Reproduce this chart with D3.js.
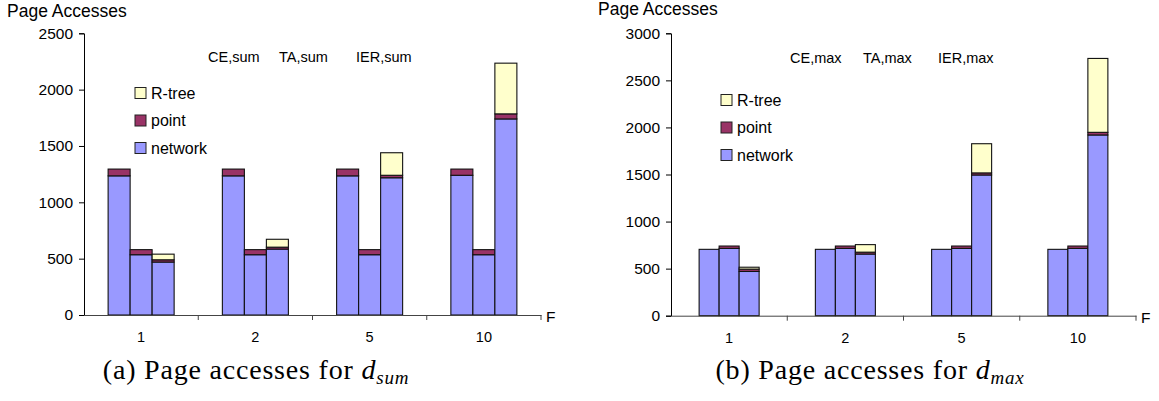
<!DOCTYPE html>
<html><head><meta charset="utf-8">
<script src="https://cdn.jsdelivr.net/npm/d3@7"></script>
<style>body{margin:0;background:#fff}svg{display:block}text{font-family:"Liberation Sans",Arial,sans-serif}</style>
</head><body><svg id="c" width="1159" height="401"></svg>
<script>
const categories = ["1","2","5","10"];
const methods = ["CE","TA","IER"];
const layers = ["network","point","R-tree"];
const colors = {"network":"#9999FF","point":"#993366","R-tree":"#FFFFCC"};
const yTicksSum = [0,500,1000,1500,2000,2500];
const yTicksMax = [0,500,1000,1500,2000,2500,3000];

// d_sum: [method][category]
const sumNetwork = [[1235,1235,1235,1240],[535,535,535,535],[470,585,1218,1740]];
const sumPoint   = [[60,60,60,55],[45,45,45,45],[20,17,22,45]];
const sumRtree   = [[0,0,0,0],[0,0,0,0],[50,70,200,450]];
// d_max: [method][category]
const maxNetwork = [[705,705,705,705],[715,715,715,715],[470,655,1495,1920]];
const maxPoint   = [[0,0,0,0],[25,25,25,25],[25,20,22,28]];
const maxRtree   = [[0,0,0,0],[0,0,0,0],[20,80,310,785]];

const svg = d3.select("#c");

function panel(o){
  const g = svg.append("g");
  const x0 = d3.scaleBand().domain(categories).range([o.x0,o.x1]).padding(0);
  const x1 = d3.scaleBand().domain(methods).range([0,x0.bandwidth()]).paddingInner(0).paddingOuter(o.pad);
  const y = d3.scaleLinear().domain([0,o.ymax]).range([o.yb,o.yt]);

  categories.forEach((c,ci)=>{
    methods.forEach((m,mi)=>{
      const vals = [o.net[mi][ci], o.pt[mi][ci], o.rt[mi][ci]];
      let base = 0;
      vals.forEach((v,li)=>{
        if(v<=0) return;
        g.append("rect")
          .attr("x", x0(c)+x1(m))
          .attr("width", x1.bandwidth())
          .attr("y", y(base+v))
          .attr("height", y(base)-y(base+v))
          .attr("fill", colors[layers[li]])
          .attr("stroke","#111").attr("stroke-width",1.1);
        base += v;
      });
    });
  });

  const ya = d3.axisLeft(y).tickValues(o.yticks).tickSize(5).tickPadding(6).tickFormat(d3.format("d"));
  const yg = g.append("g").attr("transform",`translate(${o.x0},0)`).call(ya);
  yg.select(".domain").attr("stroke","#000");
  yg.selectAll(".tick line").attr("stroke","#000");
  yg.selectAll("text").attr("font-size",15.5).attr("fill","#000");

  const xa = d3.axisBottom(x0).tickSize(0).tickPadding(17);
  const xg = g.append("g").attr("transform",`translate(0,${o.yb})`).call(xa);
  xg.select(".domain").attr("stroke","#444");
  xg.selectAll("text").attr("font-size",14.5).attr("fill","#000");
  categories.forEach(c=>{
    g.append("line").attr("x1",x0(c)+x0.bandwidth()).attr("x2",x0(c)+x0.bandwidth())
      .attr("y1",o.yb).attr("y2",o.yb+5).attr("stroke","#444");
  });
  g.append("text").attr("x",o.x1+5).attr("y",o.yb+7).attr("font-size",15.5).text("F");

  g.append("text").attr("x",o.titleX).attr("y",o.titleY).attr("font-size",17.5).text("Page Accesses");

  methods.forEach((m,i)=>{
    g.append("text").attr("x",o.labX[i]).attr("y",o.labY).attr("font-size",14.5).text(m+","+o.suffix);
  });

  layers.slice().reverse().forEach((l,i)=>{
    const ly = o.legY + i*o.legDy;
    g.append("rect").attr("x",o.legX).attr("y",ly-5.5).attr("width",11).attr("height",11)
      .attr("fill",colors[l]).attr("stroke","#222").attr("stroke-width",1);
    g.append("text").attr("x",o.legX+16).attr("y",ly+5.5).attr("font-size",16).text(l);
  });

  const cap = g.append("text").attr("x",o.capX).attr("y",379).attr("text-anchor","middle")
    .style("font-family","'Liberation Serif','DejaVu Serif',serif").style("letter-spacing","0.8px").attr("font-size",28);
  cap.append("tspan").text(o.capLetter+" Page accesses for ");
  cap.append("tspan").style("font-style","italic").text("d");
  cap.append("tspan").style("font-style","italic").attr("font-size",19).attr("dy",5).text(o.suffix);
}

panel({x0:84,x1:541,yb:315,yt:33.3,ymax:2500,yticks:yTicksSum,pad:1.096,
  net:sumNetwork,pt:sumPoint,rt:sumRtree,suffix:"sum",
  titleX:7,titleY:17,labX:[208,279,356],labY:62,legX:135,legY:93,legDy:27.5,capX:256,capLetter:"(a)"});
panel({x0:671,x1:1136,yb:315.7,yt:33.3,ymax:3000,yticks:yTicksMax,pad:1.406,
  net:maxNetwork,pt:maxPoint,rt:maxRtree,suffix:"max",
  titleX:598,titleY:15,labX:[790,863,938],labY:63,legX:721,legY:100,legDy:27.5,capX:870,capLetter:"(b)"});
</script></body></html>
